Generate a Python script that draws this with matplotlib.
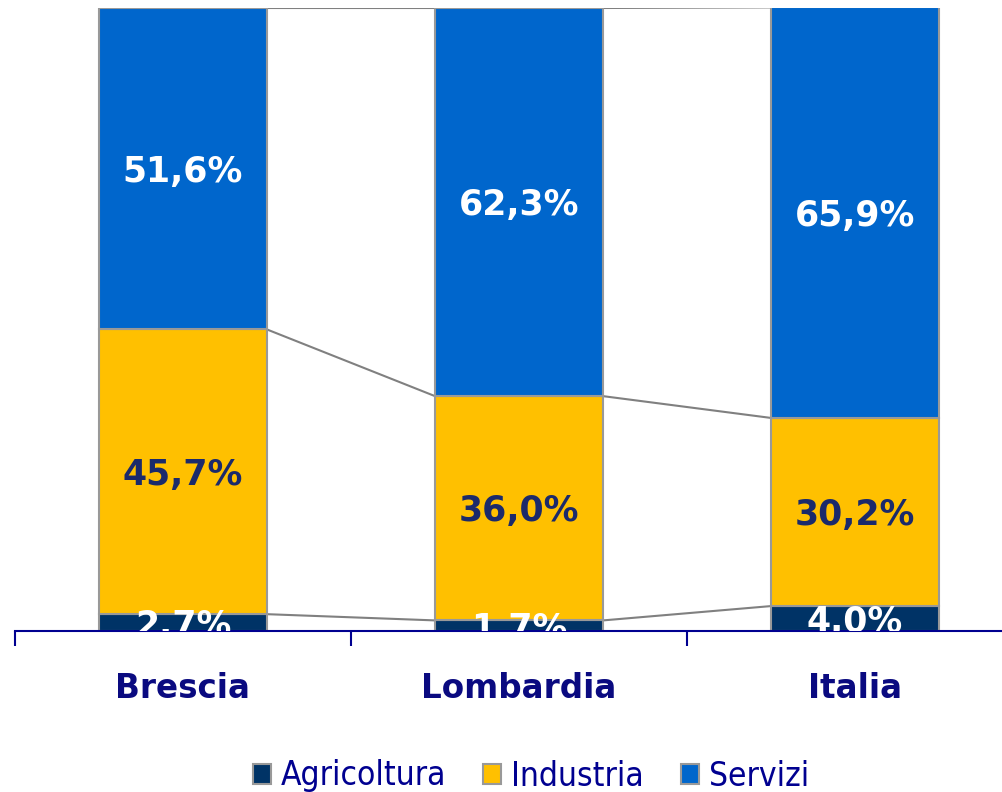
import numpy as np
import matplotlib
matplotlib.use('Agg')
from matplotlib import pyplot as plt
from matplotlib.patches import Patch

# data
regions = ['Brescia', 'Lombardia', 'Italia']
series = ['Agricoltura', 'Industria', 'Servizi']
agricoltura = [2.7, 1.7, 4.0]
industria = [45.7, 36.0, 30.2]
servizi = [51.6, 62.3, 65.9]

colors = ['#003366', '#FFC000', '#0066CC']
label_colors = ['white', '#1B2A6B', 'white']
navy = '#000090'

fig = plt.figure(figsize=(10.02, 7.92), dpi=100)
W, H = 1002., 792.
ax = fig.add_axes([15 / W, (H - 631) / H, 1008 / W, 623 / H])

x = np.arange(len(regions))
width = 0.5
bottom = np.zeros(len(regions))
values = [agricoltura, industria, servizi]
for vals, col, lcol in zip(values, colors, label_colors):
    vals = np.array(vals)
    ax.bar(x, vals, width, bottom=bottom, color=col, edgecolor='#999999',
           linewidth=1.5, zorder=2)
    for xi, b, v in zip(x, bottom, vals):
        ax.text(xi, b + v / 2 - 0.5, ('%.1f%%' % v).replace('.', ','),
                ha='center', va='center', color=lcol, fontsize=25,
                fontweight='bold', clip_on=True, zorder=3)
    bottom = bottom + vals
    # series lines between bars
    for i in range(len(regions) - 1):
        ax.plot([x[i] + width / 2, x[i + 1] - width / 2], [bottom[i], bottom[i + 1]],
                color='#808080', linewidth=1.5, zorder=1)

ax.set_xlim(-0.5, 2.5)
ax.set_ylim(0, 100)
for s in ['top', 'right', 'left']:
    ax.spines[s].set_visible(False)
ax.spines['bottom'].set_color(navy)
ax.spines['bottom'].set_linewidth(1.5)
ax.set_yticks([])
ax.set_xticks([-0.5, 0.5, 1.5, 2.5])
ax.set_xticklabels([])
ax.tick_params(axis='x', direction='out', length=11, width=1.5, color=navy)
for xi, name in zip(x, regions):
    ax.text(xi, -9.3, name, ha='center', va='center', fontsize=23.5,
            fontweight='bold', color='#0A0A80', clip_on=False)

handles = [Patch(facecolor=c, edgecolor='#999999', linewidth=1.5) for c in colors]
leg = fig.legend(handles, series, loc='center', bbox_to_anchor=(531 / W, 1 - 776 / H),
                 ncol=3, frameon=False, handlelength=0.55, handleheight=0.55,
                 handletextpad=0.3, columnspacing=1.1,
                 prop={'family': 'DejaVu Sans', 'stretch': 'condensed', 'size': 24})
for t in leg.get_texts():
    t.set_color(navy)

fig.savefig('out.png', dpi=100)
